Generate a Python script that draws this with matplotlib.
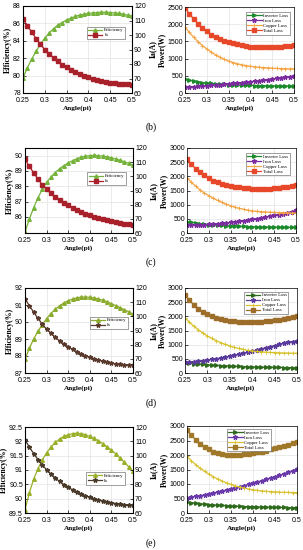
import numpy as np
import matplotlib
matplotlib.use("Agg")
import matplotlib.pyplot as plt

# ---------------- data ----------------
angle = [0.25, 0.26, 0.27, 0.28, 0.29, 0.30, 0.31, 0.32, 0.33, 0.34, 0.35, 0.36, 0.37,
         0.38, 0.39, 0.40, 0.41, 0.42, 0.43, 0.44, 0.45, 0.46, 0.47, 0.48, 0.49, 0.50]
xtick_vals = [0.25, 0.3, 0.35, 0.4, 0.45, 0.5]
xtick_labels = ["0.25", "0.3", "0.35", "0.4", "0.45", "0.5"]
panel_labels = ["(b)", "(c)", "(d)", "(e)"]

# (b)
eff_b = [79.7, 80.9, 81.9, 82.8, 83.6, 84.3, 84.9, 85.4, 85.8, 86.1, 86.4, 86.6, 86.8,
         86.95, 87.05, 87.15, 87.2, 87.25, 87.28, 87.28, 87.25, 87.2, 87.15, 87.05, 86.95, 86.85]
ia_b = [111, 106.5, 102, 97.5, 93.5, 90, 87, 84.3, 81.8, 79.6, 77.7, 76, 74.4,
        73, 71.8, 70.7, 69.7, 68.9, 68.2, 67.6, 67.1, 66.7, 66.4, 66.1, 65.9, 65.8]
inv_b = [400, 370, 345, 325, 305, 290, 278, 267, 258, 250, 243, 237, 232,
         228, 224, 220, 217, 214, 212, 210, 208, 206, 205, 204, 203, 202]
iron_b = [170, 178, 186, 195, 204, 214, 224, 234, 245, 256, 268, 280, 292,
          305, 318, 332, 346, 361, 376, 392, 408, 424, 441, 458, 476, 495]
cu_b = [1920, 1760, 1620, 1490, 1380, 1280, 1190, 1110, 1040, 980, 930, 885, 850,
        820, 795, 775, 760, 748, 738, 730, 722, 716, 711, 707, 704, 702]
tot_b = [2480, 2300, 2150, 2010, 1890, 1790, 1700, 1630, 1570, 1520, 1480, 1450, 1420,
         1390, 1370, 1350, 1340, 1330, 1330, 1330, 1335, 1340, 1350, 1360, 1375, 1390]

# (c)
eff_c = [85.0, 85.85, 86.6, 87.25, 87.8, 88.25, 88.6, 88.9, 89.15, 89.35, 89.52, 89.67, 89.8,
         89.9, 89.96, 90.0, 90.02, 90.0, 89.97, 89.92, 89.86, 89.78, 89.7, 89.6, 89.5, 89.38]
ia_c = [112, 107, 102.5, 98, 94, 90.8, 88, 85.5, 83.2, 81.2, 79.5, 77.8, 76.3,
        74.9, 73.7, 72.6, 71.6, 70.6, 69.7, 68.9, 68.2, 67.6, 67, 66.5, 66.1, 65.8]
inv_c = [400, 375, 352, 333, 316, 300, 288, 277, 267, 258, 250, 243, 237,
         232, 227, 222, 218, 214, 211, 208, 206, 204, 202, 200, 199, 198]
iron_c = [270, 275, 282, 289, 296, 305, 315, 326, 340, 355, 372, 390, 410,
          432, 455, 480, 505, 532, 560, 590, 620, 652, 685, 720, 757, 795]
cu_c = [1950, 1790, 1650, 1520, 1410, 1320, 1230, 1150, 1080, 1015, 960, 910, 870,
        835, 805, 780, 765, 752, 742, 734, 728, 722, 716, 711, 706, 702]
tot_c = [2600, 2420, 2270, 2140, 2030, 1930, 1850, 1790, 1740, 1700, 1665, 1635, 1610,
         1590, 1575, 1565, 1560, 1558, 1560, 1565, 1575, 1590, 1610, 1635, 1660, 1690]

# (d)
eff_d = [87.8, 88.45, 89.0, 89.45, 89.85, 90.2, 90.5, 90.75, 90.95, 91.12, 91.25, 91.35, 91.42,
         91.46, 91.47, 91.45, 91.41, 91.35, 91.28, 91.19, 91.08, 90.96, 90.84, 90.72, 90.6, 90.45]
ia_d = [112.5, 107.5, 103, 98.5, 94.5, 91, 88, 85.2, 82.7, 80.5, 78.5, 76.7, 75,
        73.5, 72.2, 71, 70, 69.1, 68.3, 67.6, 67, 66.5, 66.1, 65.8, 65.6, 65.5]
inv_d = [380, 355, 335, 318, 303, 290, 278, 268, 259, 251, 244, 237, 231,
         226, 221, 216, 212, 208, 204, 201, 198, 195, 192, 190, 188, 186]
iron_d = [380, 392, 405, 420, 438, 458, 480, 505, 532, 560, 590, 622, 656,
          692, 730, 770, 810, 850, 890, 930, 970, 1008, 1045, 1078, 1106, 1130]
cu_d = [1950, 1790, 1650, 1520, 1410, 1310, 1220, 1140, 1070, 1010, 955, 905, 865,
        830, 800, 778, 760, 746, 735, 726, 718, 712, 707, 703, 700, 698]
tot_d = [2750, 2560, 2400, 2270, 2160, 2070, 2000, 1945, 1900, 1865, 1840, 1820, 1808,
         1800, 1798, 1800, 1806, 1815, 1828, 1845, 1865, 1888, 1915, 1945, 1980, 2020]

# (e)
eff_e = [89.62, 90.2, 90.68, 91.05, 91.35, 91.6, 91.8, 91.96, 92.08, 92.17, 92.23, 92.27, 92.28,
         92.27, 92.23, 92.17, 92.1, 92.02, 91.92, 91.81, 91.69, 91.56, 91.42, 91.27, 91.11, 90.95]
ia_e = [111, 106, 101.5, 97.3, 93.5, 90.2, 87.2, 84.5, 82, 79.8, 77.9, 76.2, 74.7,
        73.3, 72.1, 71, 70, 69.1, 68.3, 67.7, 67.1, 66.6, 66.2, 65.9, 65.7, 65.5]
inv_e = [380, 358, 338, 320, 305, 292, 280, 269, 259, 251, 243, 236, 230,
         224, 219, 214, 210, 206, 202, 199, 196, 193, 190, 188, 186, 184]
iron_e = [520, 545, 572, 600, 630, 660, 692, 725, 760, 795, 832, 870, 908,
          948, 988, 1030, 1072, 1115, 1160, 1205, 1250, 1300, 1350, 1405, 1460, 1520]
cu_e = [1950, 1800, 1665, 1545, 1435, 1340, 1250, 1170, 1100, 1040, 985, 935, 893,
        857, 827, 801, 780, 762, 748, 737, 728, 720, 714, 709, 705, 702]
tot_e = [2860, 2680, 2520, 2390, 2280, 2190, 2120, 2070, 2035, 2015, 2005, 2003, 2008,
         2020, 2038, 2060, 2087, 2118, 2152, 2190, 2230, 2270, 2312, 2355, 2398, 2440]

# ---------------- style ----------------
W, H = 303, 550
fig = plt.figure(figsize=(W / 100, H / 100), dpi=100)
fig.patch.set_facecolor("white")

TICKFONT = dict(family="Liberation Sans", size=5.0)
LABFONT = dict(family="Liberation Serif", size=5.2, weight="bold")
YLABFONT = dict(family="Liberation Serif", size=5.6, weight="bold")
LEGFONT = dict(family="Liberation Serif", size=3.4)


def add_ax(x0, y0, x1, y1):
    return fig.add_axes([x0 / W, 1 - y1 / H, (x1 - x0) / W, (y1 - y0) / H])


def style_ax(ax):
    ax.grid(True, color="#e3e3e3", linewidth=0.5)
    ax.set_axisbelow(True)
    ax.tick_params(direction="in", length=2, width=0.5, pad=1.5, labelsize=5.0)
    ax.tick_params(axis="x", pad=2.6)
    for s in ax.spines.values():
        s.set_linewidth(0.5)
    ax.set_xlim(0.25, 0.5)
    ax.set_xticks(xtick_vals)
    ax.set_xticklabels(xtick_labels, fontdict=TICKFONT)
    ax.set_xlabel("Angle(pi)", fontdict=LABFONT, labelpad=1)


rows = [
    dict(eff=eff_b, ia=ia_b, inv=inv_b, iron=iron_b, cu=cu_b, tot=tot_b,
         L=(23, 6, 132, 93), R=(185, 7, 294, 93),
         eylim=(78, 88), eticks=[78, 80, 82, 84, 86, 88], pylim=(0, 2500),
         pticks=[0, 500, 1000, 1500, 2000, 2500],
         ceff="#74b23a", cia="#a8202a", iamk="s",
         cinv="#1a8a2a", ciron="#7b2c9e", ccu="#f5a442", ctot="#e8482a",
         legL=(0.96, 0.79), legR=(0.985, 0.965), labely=127),
    dict(eff=eff_c, ia=ia_c, inv=inv_c, iron=iron_c, cu=cu_c, tot=tot_c,
         L=(25, 148, 133, 233), R=(187, 148, 296, 233),
         eylim=(84.95, 90.5), eticks=[86, 87, 88, 89, 90], pylim=(0, 3000),
         pticks=[0, 500, 1000, 1500, 2000, 2500, 3000],
         ceff="#74b23a", cia="#a8202a", iamk="s",
         cinv="#1a8a2a", ciron="#7b2c9e", ccu="#f5a442", ctot="#e8482a",
         legL=(0.955, 0.74), legR=(0.965, 0.97), labely=262),
    dict(eff=eff_d, ia=ia_d, inv=inv_d, iron=iron_d, cu=cu_d, tot=tot_d,
         L=(25, 288, 133, 373), R=(185, 288, 297, 373),
         eylim=(87, 92), eticks=[87, 88, 89, 90, 91, 92], pylim=(0, 3000),
         pticks=[0, 500, 1000, 1500, 2000, 2500, 3000],
         ceff="#8aab2c", cia="#5a3a2c", iamk="*",
         cinv="#2d6a1c", ciron="#5b3b9c", ccu="#d8c22a", ctot="#9c6e2a",
         legL=(0.975, 0.69), legR=(0.945, 0.985), labely=403),
    dict(eff=eff_e, ia=ia_e, inv=inv_e, iron=iron_e, cu=cu_e, tot=tot_e,
         L=(25, 427, 133, 513), R=(187, 426, 297, 513),
         eylim=(89.5, 92.5), eticks=[89.5, 90, 90.5, 91, 91.5, 92, 92.5], pylim=(0, 3000),
         pticks=[0, 500, 1000, 1500, 2000, 2500, 3000],
         ceff="#9bb02a", cia="#4a3a2a", iamk="*",
         cinv="#2d6a1c", ciron="#6a3aaa", ccu="#d8c232", ctot="#a0782a",
         legL=(0.945, 0.50), legR=(0.785, 0.99), labely=543),
]

for i, r in enumerate(rows):
    # ---- left: efficiency + Ia ----
    ax = add_ax(*r["L"])
    style_ax(ax)
    l1, = ax.plot(angle, r["eff"], color=r["ceff"], marker="^", ms=2.6, lw=0.9,
                  label="Efficiency")
    ax.set_ylim(*r["eylim"])
    ax.set_yticks(r["eticks"])
    ax.set_yticklabels([f"{v:g}" for v in r["eticks"]], fontdict=TICKFONT)
    ax.set_ylabel("Efficiency(%)", fontdict=YLABFONT, labelpad=1)
    ax2 = ax.twinx()
    ax2.tick_params(direction="in", length=2, width=0.5, pad=1.5, labelsize=5.0)
    l2, = ax2.plot(angle, r["ia"], color=r["cia"], marker=r["iamk"],
                   ms=2.6 if r["iamk"] == "s" else 3.2, lw=0.9, label="Ia")
    ax2.set_ylim(60, 120)
    ax2.set_yticks([60, 70, 80, 90, 100, 110, 120])
    ax2.set_yticklabels([str(v) for v in [60, 70, 80, 90, 100, 110, 120]], fontdict=TICKFONT)
    ax2.set_ylabel("Ia(A)", fontdict=YLABFONT, labelpad=2)
    ax2.set_xlim(0.25, 0.5)
    leg = ax2.legend(handles=[l1, l2], loc="upper right", bbox_to_anchor=r["legL"],
                     prop=LEGFONT, handlelength=3.0, borderpad=0.3, labelspacing=0.15,
                     handletextpad=0.4, fancybox=False, framealpha=1, edgecolor="#555555")
    leg.get_frame().set_linewidth(0.4)

    # ---- right: losses ----
    bx = add_ax(*r["R"])
    style_ax(bx)
    h1, = bx.plot(angle, r["inv"], color=r["cinv"], marker=">", ms=2.6, lw=0.9,
                  label="Inverter Loss")
    h2, = bx.plot(angle, r["iron"], color=r["ciron"], marker="*", ms=3.3, lw=0.9,
                  label="Iron Loss")
    h3, = bx.plot(angle, r["cu"], color=r["ccu"], marker="+", ms=2.4, mew=0.6, lw=0.9,
                  label="Copper Loss")
    h4, = bx.plot(angle, r["tot"], color=r["ctot"], marker="s", ms=2.4, lw=0.9,
                  label="Total Loss")
    bx.set_ylim(*r["pylim"])
    bx.set_yticks(r["pticks"])
    bx.set_yticklabels([str(v) for v in r["pticks"]], fontdict=TICKFONT)
    bx.set_ylabel("Power(W)", fontdict=YLABFONT, labelpad=1)
    leg = bx.legend(handles=[h1, h2, h3, h4], loc="upper right", bbox_to_anchor=r["legR"],
                    prop=LEGFONT, handlelength=3.0, borderpad=0.3, labelspacing=0.15,
                    handletextpad=0.4, fancybox=False, framealpha=1, edgecolor="#555555")
    leg.get_frame().set_linewidth(0.4)

    fig.text(151 / W, 1 - r["labely"] / H, panel_labels[i], ha="center", va="center",
             family="Liberation Serif", size=7)

fig.savefig("out.png", dpi=100, facecolor="white")
